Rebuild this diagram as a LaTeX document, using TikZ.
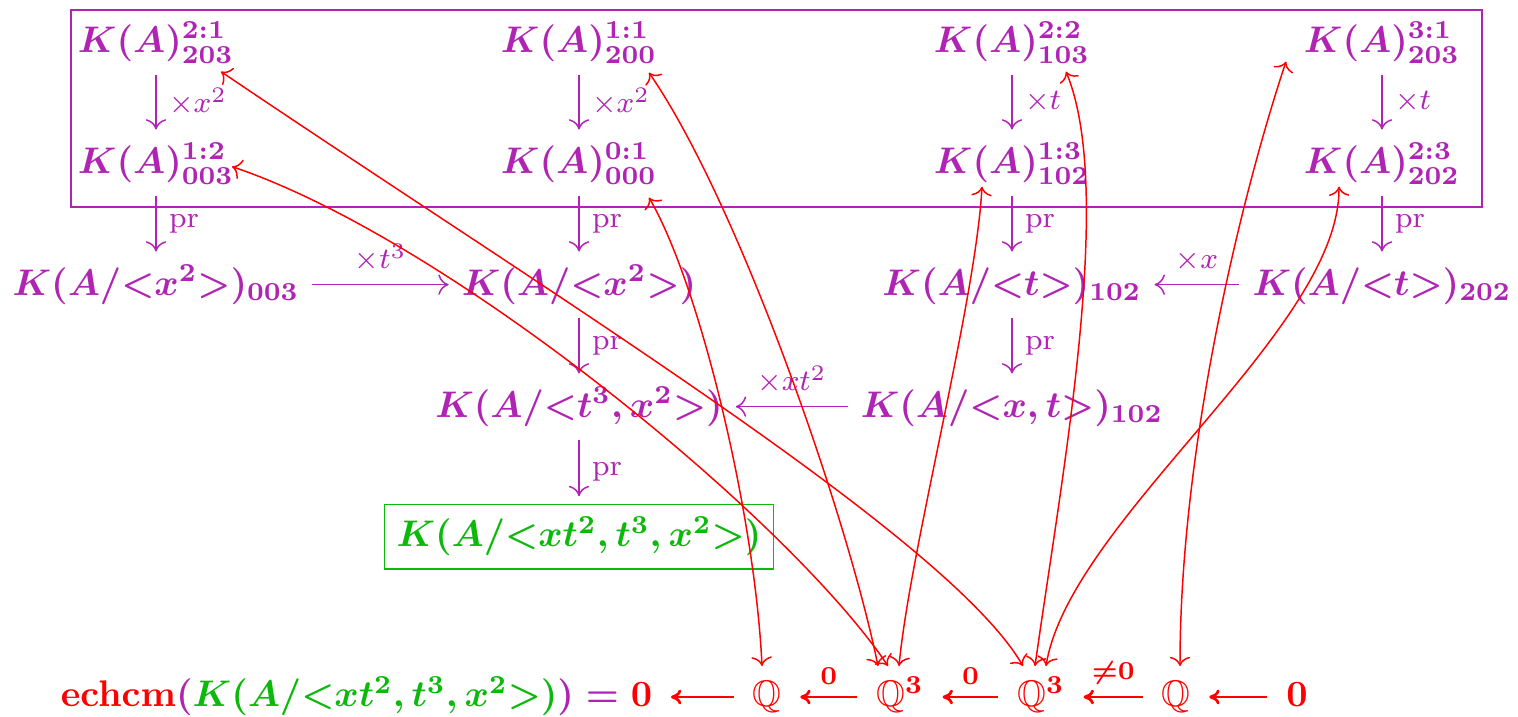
\documentclass[tikz,border=0pt]{standalone}
\usepackage{amssymb}
\usetikzlibrary{arrows.meta,calc}
\definecolor{ppl}{RGB}{176,36,180}
\definecolor{grn}{RGB}{10,185,10}
\begin{document}
\begin{tikzpicture}[x=0.27pt,y=-0.27pt,
  mn/.style={anchor=base,text=ppl,inner sep=3.33pt,text height=8.2pt,text depth=2.6pt,font=\boldmath},
  parr/.style={draw=ppl,line width=0.4pt,-{To[length=2.8pt,width=5.5pt]}},
  lab/.style={text=ppl,font=\footnotesize,inner sep=3.33pt},
  rarr/.style={draw=red,line width=0.4pt,{To[length=2.5pt,width=5.5pt]}-{To[length=2.5pt,width=5.5pt]}},
  bn/.style={anchor=base,text=red,inner xsep=4.9pt,inner ysep=2pt,font=\boldmath},
  barr/.style={draw=red,line width=0.75pt,-{To[length=2.8pt,width=4pt]}},
  blab/.style={text=red,font=\scriptsize\boldmath,inner sep=3pt}]
\useasboundingbox (0,0) rectangle (1518,717);
% top box
\draw[draw=ppl,line width=0.4pt] (71,10) rectangle (1482,207);
% row 1
\node[mn] (n21) at (156,52) {$K(A)^{2:1}_{203}$};
\node[mn] (n11) at (579,52) {$K(A)^{1:1}_{200}$};
\node[mn] (n22) at (1012,52) {$K(A)^{2:2}_{103}$};
\node[mn] (n31) at (1382,52) {$K(A)^{3:1}_{203}$};
% row 2
\node[mn] (n12) at (156,173) {$K(A)^{1:2}_{003}$};
\node[mn] (n01) at (579,173) {$K(A)^{0:1}_{000}$};
\node[mn] (n13) at (1012,173) {$K(A)^{1:3}_{102}$};
\node[mn] (n23) at (1382,173) {$K(A)^{2:3}_{202}$};
% row 3
\node[mn] (r31) at (156,295) {$K(A/{<}x^2{>})_{003}$};
\node[mn] (r32) at (579,295) {$K(A/{<}x^2{>})$};
\node[mn] (r33) at (1012,295) {$K(A/{<}t{>})_{102}$};
\node[mn] (r34) at (1382,295) {$K(A/{<}t{>})_{202}$};
% row 4
\node[mn] (r42) at (579,417) {$K(A/{<}t^3,x^2{>})$};
\node[mn] (r43) at (1012,417) {$K(A/{<}x,t{>})_{102}$};
% row 5
\node[mn,draw=grn,text=grn,line width=0.4pt] (r52) at (579,547) {$K(A/{<}xt^2,t^3,x^2{>})$};
% purple arrows
\draw[parr] (n21) -- node[lab,right]{$\times x^2$} (n12);
\draw[parr] (n11) -- node[lab,right]{$\times x^2$} (n01);
\draw[parr] (n22) -- node[lab,right]{$\times t$} (n13);
\draw[parr] (n31) -- node[lab,right]{$\times t$} (n23);
\draw[parr] (n12) -- node[lab,right]{pr} (r31);
\draw[parr] (n01) -- node[lab,right]{pr} (r32);
\draw[parr] (n13) -- node[lab,right]{pr} (r33);
\draw[parr] (n23) -- node[lab,right]{pr} (r34);
\draw[parr] (r31) -- node[lab,above]{$\times t^3$} (r32);
\draw[parr] (r34) -- node[lab,above]{$\times x$} (r33);
\draw[parr] (r32) -- node[lab,right]{pr} (r42);
\draw[parr] (r33) -- node[lab,right]{pr} (r43);
\draw[parr] (r43) -- node[lab,above]{$\times xt^2$} (r42);
\draw[parr,shorten >=2pt] (r42) -- node[lab,right]{pr} (r52);
% bottom row
\node[bn,anchor=base east] (ech) at (671,707) {$\textcolor{red}{\mathbf{echcm}}\textcolor{ppl}{(}\textcolor{grn}{K(A/{<}xt^2,t^3,x^2{>})}\textcolor{ppl}{)}\mathrel{\textcolor{ppl}{=}}\textcolor{red}{0}$};
\node[bn] (q1) at (767,707) {$\mathbb{Q}$};
\node[bn] (q3a) at (900,707) {$\mathbb{Q}^{3}$};
\node[bn] (q3b) at (1041,707) {$\mathbb{Q}^{3}$};
\node[bn] (q4) at (1176,707) {$\mathbb{Q}$};
\node[bn] (z) at (1297,707) {$0$};
\draw[barr] ($(q1.base west)+(0,-10)$) -- ($(ech.base east)+(0,-10)$);
\draw[barr] ($(q3a.base west)+(0,-10)$) -- node[blab,above]{$0$} ($(q1.base east)+(0,-10)$);
\draw[barr] ($(q3b.base west)+(0,-10)$) -- node[blab,above]{$0$} ($(q3a.base east)+(0,-10)$);
\draw[barr] ($(q4.base west)+(0,-10)$) -- node[blab,above]{${\neq}0$} ($(q3b.base east)+(0,-10)$);
\draw[barr] ($(z.base west)+(0,-10)$) -- ($(q4.base east)+(0,-10)$);
% red curves
\draw[rarr] ($(n21)+(65,30)$) .. controls (553,296) and (948,537) .. ($(q3b.base)+(-18,-41)$);
\draw[rarr] ($(n12)+(76,4)$) .. controls (450,240) and (790,520) .. ($(q3a.base)+(-12,-41)$);
\draw[rarr] ($(n11)+(70,31)$) .. controls (740,205) and (848,519) .. ($(q3a.base)+(-22,-41)$);
\draw[rarr] ($(n01)+(70,35)$) .. controls (700,285) and (755,516) .. ($(q1.base)+(-5,-41)$);
\draw[rarr] ($(n22)+(54,30)$) .. controls (1115,190) and (1063,468) .. ($(q3b.base)+(-6,-41)$);
\draw[rarr] ($(n13)+(-30,24)$) .. controls (976,300) and (910,550) .. ($(q3a.base)+(-1,-41)$);
\draw[rarr] ($(n31)+(-96,20)$) .. controls (1240,200) and (1180,450) .. ($(q4.base)+(4,-41)$);
\draw[rarr] ($(n23)+(-43,24)$) .. controls (1340,330) and (1070,520) .. ($(q3b.base)+(5,-41)$);
\end{tikzpicture}
\end{document}
